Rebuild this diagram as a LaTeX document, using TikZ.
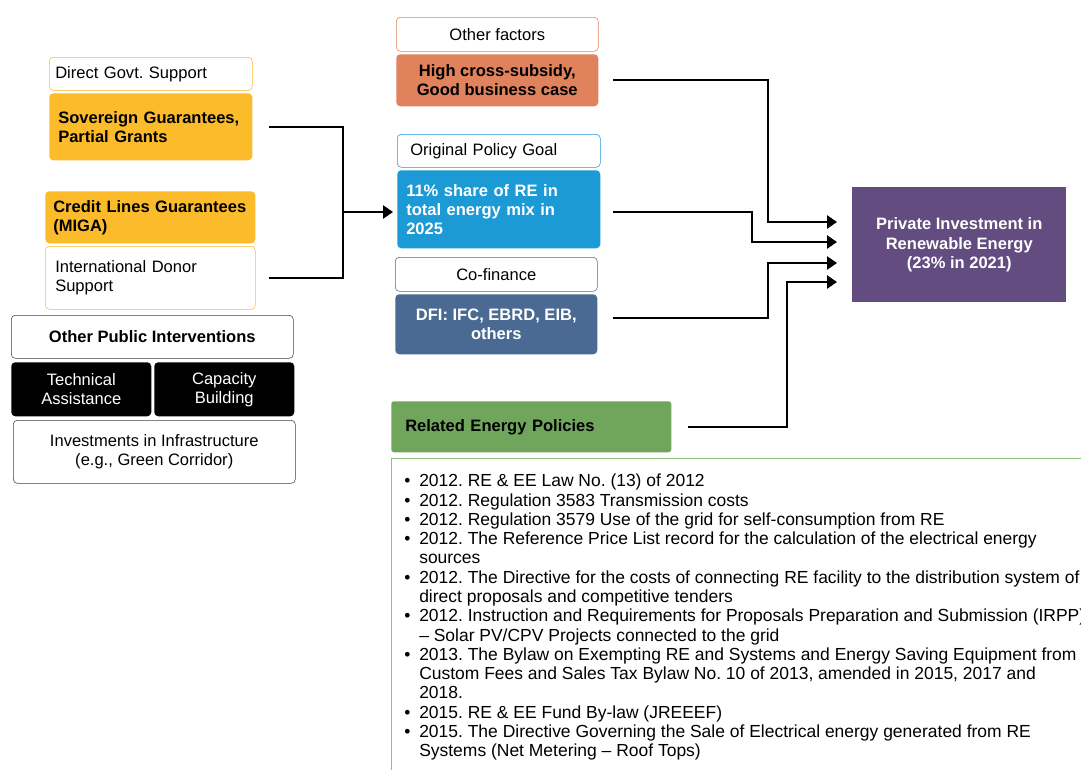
\documentclass[tikz,border=0pt]{standalone}
\usepackage{fontspec}
\setmainfont{Liberation Sans}
\usetikzlibrary{arrows.meta}
\definecolor{orgF}{RGB}{252,187,42}
\definecolor{salm}{RGB}{224,130,91}
\definecolor{sky}{RGB}{27,154,214}
\definecolor{slate}{RGB}{75,106,147}
\definecolor{plum}{RGB}{98,76,128}
\definecolor{leaf}{RGB}{112,166,91}
\definecolor{leafB}{RGB}{141,194,122}
\definecolor{dgray}{RGB}{64,64,64}
\tikzset{
  tx/.style={font=\fontsize{12.4}{14.3}\selectfont},
  bx/.style={font=\fontsize{12.4}{14.3}\selectfont\bfseries},
  box/.style={rectangle, rounded corners=3pt, anchor=north west, inner ysep=0pt},
  lbox/.style n args={3}{box, minimum width=#1*0.75pt, minimum height=#2*0.75pt,
     text width={(#1-2*#3)*0.75pt}, inner xsep=#3*0.75pt, align=left},
  cbox/.style 2 args={box, minimum width=#1*0.75pt, minimum height=#2*0.75pt,
     inner xsep=0pt, align=center},
  conn/.style={line width=1.1pt, black},
  arr/.style={conn, -{Triangle[length=7.5pt,width=10pt]}},
}
\frenchspacing
\begin{document}
\frenchspacing
\begin{tikzpicture}[x=0.75pt,y=-0.75pt]
\useasboundingbox (0,0) rectangle (1081,769);
\clip (0,0) rectangle (1081,769);
\fill[white] (0,0) rectangle (1081,769);

% left column
\node[lbox={203}{33}{6}, tx, draw=orgF, fill=white] (dgs) at (49,57) {Direct Govt. Support};
\node[lbox={203}{67}{9}, bx, fill=orgF] (sov) at (49,93) {Sovereign Guarantees,\\Partial Grants};
\node[lbox={210}{52}{8}, bx, fill=orgF] (clg) at (45,191) {Credit Lines Guarantees\\(MIGA)};
\node[lbox={210}{63}{10}, tx, draw=orgF, fill=white] (ids) at (45,246) {International Donor\\Support};

\node[cbox={282}{43}, bx, draw=dgray, fill=white] (opi) at (11,315) {Other Public Interventions};
\node[cbox={140}{54}, tx, fill=black, text=white] (ta) at (11,362) {Technical\\Assistance};
\node[cbox={140}{54}, tx, fill=black, text=white] (cb) at (154,362) {Capacity\\Building};
\node[cbox={282}{63}, tx, draw=dgray, fill=white] (inv) at (13,420) {Investments in Infrastructure\\(e.g., Green Corridor)};

% middle column
\node[cbox={202}{34}, tx, draw=salm, fill=white] (of) at (396,17) {Other factors};
\node[cbox={202}{52}, bx, fill=salm] (hcs) at (396,54) {High cross-subsidy,\\Good business case};
\node[lbox={203}{33}{13}, tx, draw=sky, fill=white] (opg) at (397,134) {Original Policy Goal};
\node[lbox={203}{78}{9}, bx, fill=sky, text=white] (goal) at (397,170) {11\% share of RE in\\total energy mix in\\2025};
\node[cbox={202}{34}, tx, draw=slate, fill=white] (cof) at (395,257) {Co-finance};
\node[cbox={202}{60}, bx, fill=slate, text=white] (dfi) at (395,294) {DFI: IFC, EBRD, EIB,\\others};

% target
\node[cbox={214}{115}, bx, fill=plum, text=white, rounded corners=0pt] (pir) at (852,187) {Private Investment in\\Renewable Energy\\(23\% in 2021)};

% related policies
\node[lbox={280}{51}{14}, bx, fill=leaf, rounded corners=2pt] (rep) at (391,401) {Related Energy Policies};
\node[box, rounded corners=0pt, draw=leafB, line width=0.8pt, minimum width=540pt, minimum height=300pt] (lstbox) at (391,458) {};
\node[anchor=north west, inner sep=0pt, font=\fontsize{13.1}{14.46}\selectfont] (lst) at (404,473) {%
\begin{tabular}{@{}p{11.25pt}@{}l@{}}
• & 2012. RE \& EE Law No. (13) of 2012\\
• & 2012. Regulation 3583 Transmission costs\\
• & 2012. Regulation 3579 Use of the grid for self-consumption from RE\\
• & 2012. The Reference Price List record for the calculation of the electrical energy\\
  & sources\\
• & 2012. The Directive for the costs of connecting RE facility to the distribution system of\\
  & direct proposals and competitive tenders\\
• & 2012. Instruction and Requirements for Proposals Preparation and Submission (IRPP)\\
  & – Solar PV/CPV Projects connected to the grid\\
• & 2013. The Bylaw on Exempting RE and Systems and Energy Saving Equipment from\\
  & Custom Fees and Sales Tax Bylaw No. 10 of 2013, amended in 2015, 2017 and\\
  & 2018.\\
• & 2015. RE \& EE Fund By-law (JREEEF)\\
• & 2015. The Directive Governing the Sale of Electrical energy generated from RE\\
  & Systems (Net Metering – Roof Tops)
\end{tabular}};

% connectors left
\coordinate (a1) at (269,127);
\coordinate (a2) at (269,278);
\coordinate (jb) at (343,278);
\coordinate (jm) at (343,212);
\coordinate (gin) at (393,212);
\draw[conn] (a1) -| (jb) -- (a2);
\draw[arr] (jm) -- (gin);

% connectors right
\coordinate (b1) at (613,80);  \coordinate (k1) at (768,222); \coordinate (t1) at (837,222);
\coordinate (b2) at (613,212); \coordinate (k2) at (752,242); \coordinate (t2) at (837,242);
\coordinate (b3) at (613,318); \coordinate (k3) at (768,263); \coordinate (t3) at (837,263);
\coordinate (b4) at (688,427); \coordinate (k4) at (787,282); \coordinate (t4) at (837,282);
\draw[arr] (b1) -| (k1) -- (t1);
\draw[arr] (b2) -| (k2) -- (t2);
\draw[arr] (b3) -| (k3) -- (t3);
\draw[arr] (b4) -| (k4) -- (t4);
\end{tikzpicture}
\end{document}
